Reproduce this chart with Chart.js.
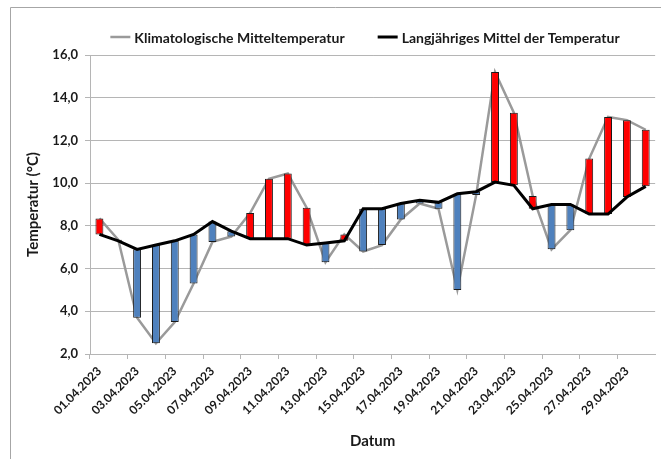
<!DOCTYPE html>
<html>
<head>
<meta charset="utf-8">
<script src="https://cdn.jsdelivr.net/npm/chart.js@4"></script>
<style>
  html, body { margin: 0; padding: 0; background: #fff; }
  #wrap { width: 661px; height: 459px; }
</style>
</head>
<body>
<div id="wrap"><canvas id="myChart" width="661" height="459"></canvas></div>
<script>
const tage = ['01.04.2023', '02.04.2023', '03.04.2023', '04.04.2023', '05.04.2023', '06.04.2023',
    '07.04.2023', '08.04.2023', '09.04.2023', '10.04.2023', '11.04.2023', '12.04.2023',
    '13.04.2023', '14.04.2023', '15.04.2023', '16.04.2023', '17.04.2023', '18.04.2023',
    '19.04.2023', '20.04.2023', '21.04.2023', '22.04.2023', '23.04.2023', '24.04.2023',
    '25.04.2023', '26.04.2023', '27.04.2023', '28.04.2023', '29.04.2023', '30.04.2023'];

// Klimatologische Mitteltemperatur (grau)
const klimaMittel = [8.35, 7.35, 3.7, 2.5, 3.5, 5.3, 7.25, 7.5, 8.6, 10.2,
    10.45, 8.85, 6.3, 7.6, 6.8, 7.1, 8.3, 9.05, 8.8, 5.0,
    9.45, 15.2, 13.3, 9.4, 6.9, 7.8, 11.15, 13.1, 12.95, 12.5];

// Langjähriges Mittel der Temperatur (schwarz)
const langMittel = [7.6, 7.3, 6.9, 7.1, 7.3, 7.6, 8.2, 7.75, 7.4, 7.4,
    7.4, 7.1, 7.2, 7.3, 8.8, 8.8, 9.05, 9.2, 9.1, 9.5,
    9.6, 10.05, 9.9, 8.8, 9.0, 9.0, 8.55, 8.55, 9.35, 9.85];

const yMin = 2;
const yMax = 16;
const yStep = 2;

const fontName = 'Lato, "Liberation Sans", sans-serif';
const textColor = '#1a1a1a';
const gridColor = '#b5b5b5';

const abweichung = langMittel.map((v, i) => [v, klimaMittel[i]]);
const barColors = langMittel.map((v, i) => klimaMittel[i] >= v ? '#ff0000' : '#4f81bd');

// grauer Rahmen links und oben
const frame = {
    id: 'frame',
    afterDraw(chart) {
        const c = chart.ctx;
        c.save();
        c.strokeStyle = '#a6a6a6';
        c.lineWidth = 1;
        c.beginPath();
        c.moveTo(10.5, 459);
        c.lineTo(10.5, 7.5);
        c.lineTo(661, 7.5);
        c.stroke();
        c.restore();
    }
};

// Legende wie im Original: Linie direkt vor dem Text, mittig ueber dem Diagramm
const legende = {
    id: 'legende',
    afterDraw(chart) {
        const c = chart.ctx;
        const items = [chart.data.datasets[0], chart.data.datasets[2]];
        const sample = 20, gap = 33, y = 37;
        c.save();
        c.font = 'bold 14px ' + fontName;
        c.textBaseline = 'middle';
        const widths = items.map((d) => sample + 4 + c.measureText(d.label).width);
        const total = widths.reduce((a, b) => a + b, 0) + gap;
        let x = 365 - total / 2;
        items.forEach((d, i) => {
            c.strokeStyle = d.borderColor;
            c.lineWidth = d.borderWidth;
            c.beginPath();
            c.moveTo(x, y);
            c.lineTo(x + sample, y);
            c.stroke();
            c.fillStyle = textColor;
            c.fillText(d.label, x + sample + 4, y + 1);
            x += widths[i] + gap;
        });
        c.restore();
    }
};

const ctx = document.getElementById('myChart');

new Chart(ctx, {
    data: {
        labels: tage,
        datasets: [{
            type: 'line',
            label: 'Klimatologische Mitteltemperatur',
            data: klimaMittel,
            borderColor: '#9a9a9a',
            borderWidth: 2.5,
            pointRadius: 0,
            tension: 0,
            order: 3
        }, {
            type: 'bar',
            label: 'Abweichung',
            data: abweichung,
            backgroundColor: barColors,
            borderColor: '#1a1a1a',
            borderWidth: 1,
            borderSkipped: false,
            categoryPercentage: 1,
            barPercentage: 0.42,
            order: 2
        }, {
            type: 'line',
            label: 'Langjähriges Mittel der Temperatur',
            data: langMittel,
            borderColor: '#000000',
            borderWidth: 3,
            pointRadius: 0,
            tension: 0,
            order: 1
        }]
    },
    options: {
        responsive: false,
        animation: false,
        layout: {
            padding: { left: 10, right: 5, top: 55, bottom: 0 }
        },
        plugins: {
            legend: { display: false },
            tooltip: { enabled: false }
        },
        scales: {
            x: {
                type: 'category',
                offset: true,
                grid: {
                    offset: true,
                    drawOnChartArea: false,
                    tickLength: 5,
                    tickColor: (c) => (c.index % 2 === 0 ? gridColor : 'rgba(0,0,0,0)')
                },
                border: { color: gridColor, width: 1 },
                ticks: {
                    autoSkip: false,
                    maxRotation: 45,
                    minRotation: 45,
                    padding: 5,
                    color: textColor,
                    font: { family: fontName, size: 12, weight: 'bold' },
                    callback: function (value, index) {
                        return index % 2 === 0 ? this.getLabelForValue(value) : '';
                    }
                },
                title: {
                    display: true,
                    text: 'Datum',
                    color: textColor,
                    font: { family: fontName, size: 15, weight: 'bold' },
                    padding: { top: 0, bottom: 9 }
                },
                afterFit: (s) => { s.height = 105; }
            },
            y: {
                min: yMin,
                max: yMax,
                ticks: {
                    stepSize: yStep,
                    padding: 7,
                    color: textColor,
                    font: { family: fontName, size: 13, weight: 'bold' },
                    callback: (v) => v.toFixed(1).replace('.', ',')
                },
                grid: {
                    color: gridColor,
                    lineWidth: 1,
                    tickLength: 5
                },
                border: { color: gridColor, width: 1 },
                title: {
                    display: true,
                    text: 'Temperatur (°C)',
                    color: textColor,
                    font: { family: fontName, size: 15, weight: 'bold' },
                    padding: { top: 14, bottom: 0 }
                },
                afterFit: (s) => { s.width = 80; }
            }
        }
    },
    plugins: [frame, legende]
});
</script>
</body>
</html>
